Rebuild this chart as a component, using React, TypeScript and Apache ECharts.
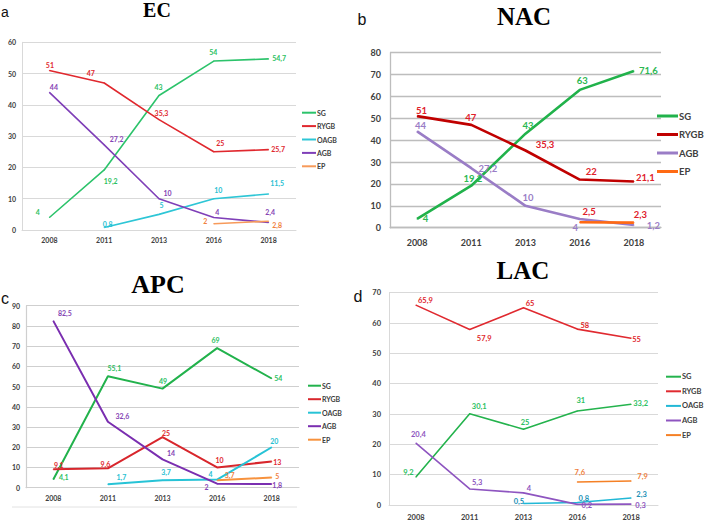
import React, { useEffect, useRef } from 'react';
import * as echarts from 'echarts';

// ---------- data ----------
const years = ['2008', '2011', '2013', '2016', '2018'];

// EC
const ecSG = [4, 19.2, 43, 54, 54.7];
const ecRYGB = [51, 47, 35.3, 25, 25.7];
const ecOAGB = [null, 0.8, 5, 10, 11.5];
const ecAGB = [44, 27.2, 10, 4, 2.4];
const ecEP = [null, null, null, 2, 2.8];

// NAC
const nacSG = [4, 19.2, 43, 63, 71.6];
const nacRYGB = [51, 47, 35.3, 22, 21.1];
const nacAGB = [44, 27.2, 10, 4, 1.2];
const nacEP = [null, null, null, 2.5, 2.3];

// APC
const apcSG = [4.1, 55.1, 49, 69, 54];
const apcRYGB = [9.1, 9.6, 25, 10, 13];
const apcOAGB = [null, 1.7, 3.7, 4, 20];
const apcAGB = [82.5, 32.6, 14, 2, 1.8];
const apcEP = [null, null, null, 3.7, 5];

// LAC
const lacSG = [9.2, 30.1, 25, 31, 33.2];
const lacRYGB = [65.9, 57.9, 65, 58, 55];
const lacOAGB = [null, null, 0.5, 0.8, 2.3];
const lacAGB = [20.4, 5.3, 4, 0.2, 0.3];
const lacEP = [null, null, null, 7.6, 7.9];

const yMax = [60, 80, 90, 70];
const titles = ['EC', 'NAC', 'APC', 'LAC'];
const letters = ['a', 'b', 'c', 'd'];

// ---------- styling (label offsets relative to the point) ----------
type Off = [number, number] | null;
const ecOff: Record<string, Off[]> = {
  SG: [[-11, -5], [7, 12], [0, -8], [0, -9], [11, 0]],
  RYGB: [[1, -5], [-13, -9], [3, -6], [7, -8], [10, 0]],
  OAGB: [null, [4, -3], [3, -9], [5, -8], [9, -11]],
  AGB: [[5, -5], [13, -5], [9, -5], [4, -5], [2, -10]],
  EP: [null, null, null, [-8, -2], [9, 4]],
};
const nacOff: Record<string, Off[]> = {
  SG: [[9, 0], [2, -7], [3, -8], [3, -9], [15, 0]],
  RYGB: [[5, -5], [0, -7], [20, -5], [12, -8], [12, -4]],
  AGB: [[4, -5], [17, 1], [3, -8], [-4, 9], [20, 1]],
  EP: [null, null, null, [10, -10], [7, -8]],
};
const apcOff: Record<string, Off[]> = {
  SG: [[11, -2], [7, -8], [1, -7], [-1, -8], [7, 0]],
  RYGB: [[6, -4], [-2, -4], [4, -4], [3, -7], [6, 1]],
  OAGB: [null, [14, -7], [4, -8], [-6, -5], [3, -6]],
  AGB: [[12, -7], [15, -5], [9, -6], [-10, 4], [6, 1]],
  EP: [null, null, null, [13, -5], [6, -1]],
};
const lacOff: Record<string, Off[]> = {
  SG: [[-7, -4], [10, -7], [2, -6], [4, -10], [10, 0]],
  RYGB: [[10, -4], [15, 10], [7, -4], [8, -3], [6, 2]],
  OAGB: [null, null, [-4, -1], [7, -4], [11, -3]],
  AGB: [[3, -8], [8, -6], [6, -4], [10, 2], [10, 2]],
  EP: [null, null, null, [3, -9], [12, -4]],
};

const FONT = 'Lato, "Liberation Sans", sans-serif';
const TICK = '#404040';

interface SerDef { name: string; values: (number | null)[]; color: string; labelColor: string; off: Off[] }
interface PanelDef {
  grid: { left: number; top: number; width: number; height: number };
  tickSize: number; labelSize: number; legendSize: number;
  lineWidth: number; gridColor: string; gridWidth: number;
  xMargin: number; yMargin: number;
  legend: { left: number; top: number; itemWidth: number; itemHeight: number; lineHeight: number; gap: number };
  series: SerDef[];
}

const panels: PanelDef[] = [
  {
    grid: { left: 22, top: 42.3, width: 274, height: 187.7 },
    tickSize: 7, labelSize: 7, legendSize: 7, lineWidth: 1.6, gridColor: '#d9d9d9', gridWidth: 1,
    xMargin: 6, yMargin: 6,
    legend: { left: 302, top: 107.7, itemWidth: 14, itemHeight: 2, lineHeight: 10, gap: 3.4 },
    series: [
      { name: 'SG', values: ecSG, color: '#2cc36b', labelColor: '#2cbf62', off: ecOff.SG },
      { name: 'RYGB', values: ecRYGB, color: '#e0282e', labelColor: '#e0282e', off: ecOff.RYGB },
      { name: 'OAGB', values: ecOAGB, color: '#2ec6d6', labelColor: '#29bfd2', off: ecOff.OAGB },
      { name: 'AGB', values: ecAGB, color: '#7f3fb8', labelColor: '#8444b4', off: ecOff.AGB },
      { name: 'EP', values: ecEP, color: '#f79a5a', labelColor: '#f08040', off: ecOff.EP },
    ],
  },
  {
    grid: { left: 390, top: 52.7, width: 271, height: 175 },
    tickSize: 9, labelSize: 9.5, legendSize: 9.5, lineWidth: 2.6, gridColor: '#bdbdbd', gridWidth: 1.3,
    xMargin: 10, yMargin: 9,
    legend: { left: 657, top: 110, itemWidth: 21, itemHeight: 3, lineHeight: 12, gap: 6.5 },
    series: [
      { name: 'SG', values: nacSG, color: '#21b24b', labelColor: '#2cb851', off: nacOff.SG },
      { name: 'RYGB', values: nacRYGB, color: '#c00000', labelColor: '#e0202a', off: nacOff.RYGB },
      { name: 'AGB', values: nacAGB, color: '#9a7dc6', labelColor: '#9a7dc6', off: nacOff.AGB },
      { name: 'EP', values: nacEP, color: '#ff6a13', labelColor: '#e0202a', off: nacOff.EP },
    ],
  },
  {
    grid: { left: 26, top: 305.7, width: 273, height: 182 },
    tickSize: 7, labelSize: 7, legendSize: 7, lineWidth: 2, gridColor: '#cfcfcf', gridWidth: 1.2,
    xMargin: 7, yMargin: 6,
    legend: { left: 308, top: 380.7, itemWidth: 13, itemHeight: 2, lineHeight: 10, gap: 3.5 },
    series: [
      { name: 'SG', values: apcSG, color: '#22b24c', labelColor: '#2cbf62', off: apcOff.SG },
      { name: 'RYGB', values: apcRYGB, color: '#d8262c', labelColor: '#e0282e', off: apcOff.RYGB },
      { name: 'OAGB', values: apcOAGB, color: '#27c3d6', labelColor: '#29bfd2', off: apcOff.OAGB },
      { name: 'AGB', values: apcAGB, color: '#7a2eb0', labelColor: '#8444b4', off: apcOff.AGB },
      { name: 'EP', values: apcEP, color: '#f7923d', labelColor: '#f08040', off: apcOff.EP },
    ],
  },
  {
    grid: { left: 389, top: 292.7, width: 269, height: 213 },
    tickSize: 7.5, labelSize: 7.5, legendSize: 7.5, lineWidth: 1.6, gridColor: '#d9d9d9', gridWidth: 1,
    xMargin: 8, yMargin: 8,
    legend: { left: 666, top: 371.7, itemWidth: 15, itemHeight: 2, lineHeight: 10, gap: 4.6 },
    series: [
      { name: 'SG', values: lacSG, color: '#24b34d', labelColor: '#2cbf62', off: lacOff.SG },
      { name: 'RYGB', values: lacRYGB, color: '#e02a30', labelColor: '#e0282e', off: lacOff.RYGB },
      { name: 'OAGB', values: lacOAGB, color: '#22b8d6', labelColor: '#1a90b5', off: lacOff.OAGB },
      { name: 'AGB', values: lacAGB, color: '#8e55c0', labelColor: '#8e55c0', off: lacOff.AGB },
      { name: 'EP', values: lacEP, color: '#f58025', labelColor: '#f08040', off: lacOff.EP },
    ],
  },
];

const titlePos: [number, number, number][] = [
  [157, 10, 20],
  [524, 16.5, 25],
  [158, 284, 26],
  [523, 270, 25],
];
const letterPos: [number, number, number][] = [
  [5, 12, 14],
  [362, 19, 16],
  [5, 298, 16],
  [358, 296, 16],
];

const fmt = (p: any) => String(p.value).replace('.', ',');

function buildOption() {
  const grid: any[] = [];
  const xAxis: any[] = [];
  const yAxis: any[] = [];
  const legend: any[] = [];
  const series: any[] = [];
  const graphic: any[] = [];

  panels.forEach((pd, idx) => {
    grid.push({ ...pd.grid, containLabel: false });
    xAxis.push({
      type: 'category', gridIndex: idx, data: years, boundaryGap: true,
      axisLine: { show: true, lineStyle: { color: pd.gridColor, width: pd.gridWidth } },
      axisTick: { show: false },
      axisLabel: { fontSize: pd.tickSize, fontWeight: 'bold', color: TICK, fontFamily: FONT, margin: pd.xMargin },
      splitLine: { show: false },
    });
    yAxis.push({
      type: 'value', gridIndex: idx, min: 0, max: yMax[idx], interval: 10,
      axisLine: { show: true, lineStyle: { color: pd.gridColor, width: pd.gridWidth } },
      axisTick: { show: false },
      axisLabel: { fontSize: pd.tickSize, fontWeight: 'bold', color: TICK, fontFamily: FONT, margin: pd.yMargin },
      splitLine: { show: true, lineStyle: { color: pd.gridColor, width: pd.gridWidth } },
    });
    legend.push({
      orient: 'vertical', left: pd.legend.left, top: pd.legend.top, padding: 0,
      itemWidth: pd.legend.itemWidth, itemHeight: pd.legend.itemHeight, itemGap: pd.legend.gap,
      icon: 'rect', selectedMode: false,
      textStyle: {
        fontSize: pd.legendSize, fontWeight: 'bold', color: TICK, fontFamily: FONT,
        lineHeight: pd.legend.lineHeight, padding: [0, 0, 0, -4],
      },
      data: pd.series.map((s) => ({ name: s.name, itemStyle: { color: s.color } })),
    });
    pd.series.forEach((s) => {
      series.push({
        type: 'line', name: s.name, xAxisIndex: idx, yAxisIndex: idx,
        data: s.values.map((v, i) => (v == null ? null : { value: v, label: { position: s.off[i] || [0, 0] } })),
        symbol: 'circle', symbolSize: 1, showSymbol: true, connectNulls: false,
        lineStyle: { color: s.color, width: pd.lineWidth },
        itemStyle: { color: s.color },
        label: {
          show: true, color: s.labelColor, fontSize: pd.labelSize, fontWeight: 'bold', fontFamily: FONT,
          align: 'center', verticalAlign: 'middle', formatter: fmt,
        },
        emphasis: { disabled: true },
        silent: true,
      });
    });
  });

  titles.forEach((t, i) => {
    const [x, y, fs] = titlePos[i];
    graphic.push({
      type: 'text', x, y,
      style: { text: t, fontSize: fs, fontWeight: 'bold', fontFamily: '"Liberation Serif", "Times New Roman", serif', fill: '#000', textAlign: 'center', textVerticalAlign: 'middle' },
    });
  });
  letters.forEach((t, i) => {
    const [x, y, fs] = letterPos[i];
    graphic.push({
      type: 'text', x, y,
      style: { text: t, fontSize: fs, fontFamily: '"Liberation Sans", Arial, sans-serif', fill: '#111', textAlign: 'center', textVerticalAlign: 'middle' },
    });
  });
  graphic.push({
    type: 'line', shape: { x1: 12, y1: 507, x2: 297, y2: 507 },
    style: { stroke: '#e2e2e2', lineWidth: 1 },
  });

  return { animation: false, backgroundColor: '#fff', grid, xAxis, yAxis, legend, series, graphic };
}

export default function App() {
  const ref = useRef<HTMLDivElement>(null);
  useEffect(() => {
    if (!ref.current) return;
    const chart = echarts.init(ref.current, undefined, { renderer: 'svg' });
    chart.setOption(buildOption() as any);
    return () => chart.dispose();
  }, []);
  return <div ref={ref} style={{ position: 'fixed', left: 0, top: 0, width: 708, height: 521 }} />;
}
